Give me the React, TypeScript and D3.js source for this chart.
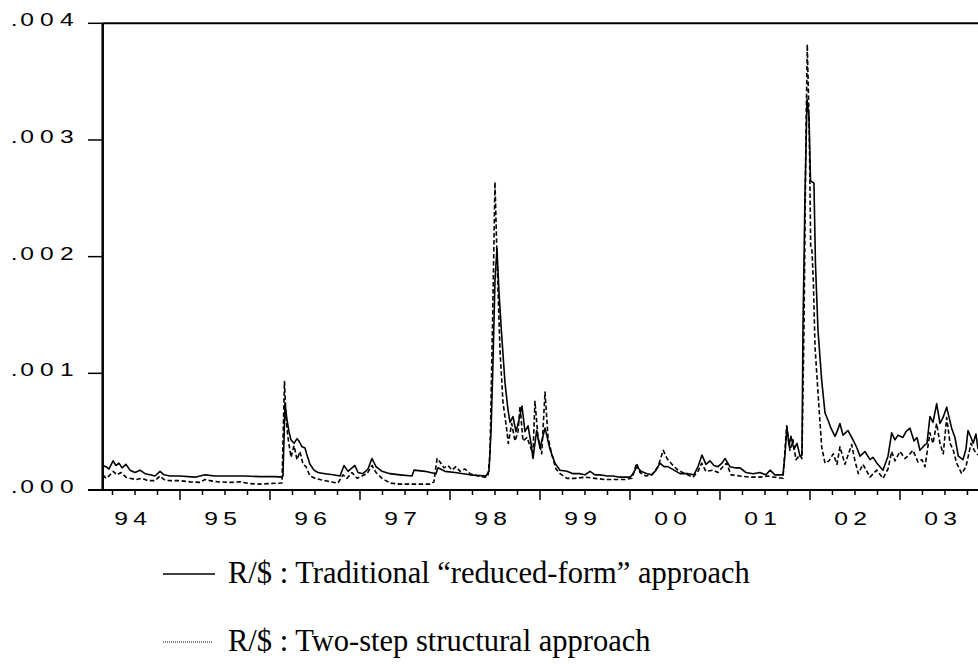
import React from 'react';
import * as d3 from 'd3';

// Values are in units of 0.001 (conditional variance), dates in decimal years
const tradDates = [
  1994.144, 1994.178, 1994.211, 1994.256, 1994.289, 1994.322, 1994.356, 1994.400, 1994.444, 1994.500,
  1994.556, 1994.611, 1994.667, 1994.722, 1994.778, 1994.822, 1994.889, 1995.000, 1995.167, 1995.278,
  1995.389, 1995.556, 1995.722, 1995.889, 1996.056, 1996.133, 1996.144, 1996.167, 1996.189, 1996.211,
  1996.233, 1996.267, 1996.300, 1996.322, 1996.356, 1996.389, 1996.411, 1996.444, 1996.489, 1996.533,
  1996.611, 1996.700, 1996.778, 1996.822, 1996.867, 1996.911, 1996.944, 1996.978, 1997.033, 1997.089,
  1997.133, 1997.178, 1997.244, 1997.333, 1997.444, 1997.578, 1997.600, 1997.722, 1997.844, 1997.867,
  1997.944, 1998.056, 1998.222, 1998.400, 1998.433, 1998.456, 1998.478, 1998.500, 1998.522, 1998.544,
  1998.574, 1998.611, 1998.644, 1998.667, 1998.700, 1998.733, 1998.767, 1998.800, 1998.833, 1998.867,
  1998.900, 1998.922, 1998.963, 1999.000, 1999.056, 1999.111, 1999.167, 1999.222, 1999.300, 1999.367,
  1999.444, 1999.500, 1999.556, 1999.611, 1999.667, 1999.744, 1999.811, 1999.889, 2000.000, 2000.033,
  2000.078, 2000.122, 2000.189, 2000.244, 2000.289, 2000.333, 2000.378, 2000.422, 2000.489, 2000.556,
  2000.644, 2000.711, 2000.756, 2000.800, 2000.844, 2000.889, 2000.933, 2000.978, 2001.022, 2001.056,
  2001.111, 2001.167, 2001.222, 2001.289, 2001.367, 2001.444, 2001.511, 2001.556, 2001.611, 2001.700,
  2001.722, 2001.744, 2001.767, 2001.789, 2001.822, 2001.856, 2001.889, 2001.911, 2001.922, 2001.944,
  2001.967, 2001.989, 2002.006, 2002.044, 2002.061, 2002.089, 2002.130, 2002.167, 2002.200, 2002.233,
  2002.278, 2002.311, 2002.333, 2002.367, 2002.422, 2002.478, 2002.522, 2002.556, 2002.611, 2002.667,
  2002.700, 2002.744, 2002.811, 2002.867, 2002.908, 2002.944, 2002.978, 2003.033, 2003.067, 2003.111,
  2003.156, 2003.189, 2003.222, 2003.267, 2003.300, 2003.333, 2003.367, 2003.408, 2003.444, 2003.478,
  2003.519, 2003.574, 2003.611, 2003.648, 2003.700, 2003.733, 2003.756, 2003.789, 2003.814, 2003.844,
  2003.867,
];
const tradVals = [
  0.21, 0.20, 0.18, 0.25, 0.21, 0.23, 0.19, 0.22, 0.17, 0.15,
  0.17, 0.14, 0.13, 0.12, 0.16, 0.13, 0.12, 0.12, 0.11, 0.13,
  0.12, 0.12, 0.12, 0.115, 0.115, 0.11, 0.12, 0.74, 0.60, 0.50,
  0.43, 0.40, 0.44, 0.42, 0.37, 0.36, 0.30, 0.22, 0.17, 0.15,
  0.14, 0.13, 0.12, 0.21, 0.16, 0.19, 0.21, 0.15, 0.14, 0.18,
  0.27, 0.20, 0.16, 0.14, 0.13, 0.12, 0.17, 0.16, 0.14, 0.19,
  0.16, 0.15, 0.13, 0.12, 0.16, 0.50, 1.10, 1.80, 2.07, 1.70,
  1.33, 0.92, 0.69, 0.58, 0.63, 0.50, 0.60, 0.72, 0.50, 0.55,
  0.40, 0.27, 0.51, 0.36, 0.53, 0.35, 0.23, 0.17, 0.16, 0.14,
  0.14, 0.13, 0.16, 0.13, 0.13, 0.12, 0.12, 0.11, 0.11, 0.14,
  0.20, 0.16, 0.14, 0.13, 0.17, 0.23, 0.20, 0.20, 0.17, 0.14,
  0.14, 0.13, 0.20, 0.30, 0.22, 0.25, 0.21, 0.20, 0.23, 0.27,
  0.20, 0.19, 0.19, 0.15, 0.14, 0.15, 0.13, 0.17, 0.13, 0.13,
  0.30, 0.54, 0.38, 0.46, 0.35, 0.40, 0.29, 0.30, 1.37, 2.50,
  3.35, 3.20, 2.65, 2.63, 1.94, 1.37, 0.94, 0.66, 0.60, 0.53,
  0.46, 0.52, 0.57, 0.47, 0.51, 0.43, 0.36, 0.29, 0.33, 0.26,
  0.28, 0.23, 0.17, 0.29, 0.49, 0.43, 0.47, 0.45, 0.50, 0.53,
  0.42, 0.45, 0.34, 0.38, 0.40, 0.63, 0.58, 0.74, 0.57, 0.62,
  0.71, 0.53, 0.45, 0.29, 0.26, 0.35, 0.51, 0.45, 0.40, 0.48,
  0.35,
];

const structDates = [
  1994.144, 1994.178, 1994.211, 1994.256, 1994.300, 1994.344, 1994.400, 1994.444, 1994.511, 1994.578,
  1994.644, 1994.722, 1994.778, 1994.822, 1994.889, 1995.000, 1995.111, 1995.222, 1995.278, 1995.333,
  1995.422, 1995.556, 1995.667, 1995.778, 1995.889, 1996.000, 1996.133, 1996.161, 1996.178, 1996.200,
  1996.233, 1996.267, 1996.300, 1996.333, 1996.367, 1996.400, 1996.444, 1996.500, 1996.556, 1996.667,
  1996.756, 1996.811, 1996.856, 1996.911, 1996.967, 1997.022, 1997.078, 1997.133, 1997.178, 1997.244,
  1997.333, 1997.444, 1997.611, 1997.778, 1997.822, 1997.856, 1997.889, 1997.933, 1997.978, 1998.022,
  1998.067, 1998.111, 1998.167, 1998.222, 1998.311, 1998.389, 1998.422, 1998.444, 1998.472, 1998.500,
  1998.522, 1998.556, 1998.589, 1998.630, 1998.648, 1998.686, 1998.722, 1998.756, 1998.778, 1998.811,
  1998.856, 1998.889, 1998.922, 1998.944, 1998.978, 1999.019, 1999.056, 1999.089, 1999.133, 1999.178,
  1999.222, 1999.300, 1999.389, 1999.500, 1999.611, 1999.722, 1999.833, 1999.944, 2000.022, 2000.074,
  2000.111, 2000.178, 2000.244, 2000.311, 2000.370, 2000.411, 2000.467, 2000.533, 2000.611, 2000.700,
  2000.756, 2000.797, 2000.844, 2000.922, 2000.978, 2001.022, 2001.074, 2001.122, 2001.222, 2001.333,
  2001.444, 2001.533, 2001.611, 2001.700, 2001.741, 2001.778, 2001.811, 2001.844, 2001.889, 2001.911,
  2001.933, 2001.956, 2001.970, 2001.992, 2002.008, 2002.022, 2002.037, 2002.056, 2002.092, 2002.130,
  2002.167, 2002.211, 2002.259, 2002.300, 2002.333, 2002.389, 2002.463, 2002.500, 2002.537, 2002.589,
  2002.667, 2002.741, 2002.811, 2002.867, 2002.908, 2002.944, 2003.000, 2003.056, 2003.100, 2003.144,
  2003.200, 2003.244, 2003.278, 2003.333, 2003.367, 2003.408, 2003.444, 2003.481, 2003.519, 2003.556,
  2003.589, 2003.630, 2003.686, 2003.733, 2003.756, 2003.789, 2003.833, 2003.867,
];
const structVals = [
  0.13, 0.10, 0.12, 0.16, 0.13, 0.15, 0.11, 0.10, 0.09, 0.10,
  0.08, 0.08, 0.12, 0.09, 0.08, 0.08, 0.07, 0.065, 0.09, 0.08,
  0.07, 0.065, 0.07, 0.055, 0.05, 0.055, 0.06, 0.93, 0.62, 0.45,
  0.28, 0.38, 0.26, 0.33, 0.22, 0.20, 0.12, 0.10, 0.09, 0.07,
  0.06, 0.13, 0.10, 0.15, 0.10, 0.12, 0.14, 0.21, 0.15, 0.10,
  0.06, 0.05, 0.05, 0.05, 0.07, 0.27, 0.24, 0.19, 0.21, 0.17,
  0.20, 0.16, 0.18, 0.14, 0.12, 0.11, 0.12, 0.30, 1.40, 2.64,
  2.00, 1.19, 0.75, 0.52, 0.40, 0.57, 0.42, 0.50, 0.72, 0.42,
  0.45, 0.38, 0.31, 0.76, 0.45, 0.31, 0.84, 0.45, 0.30, 0.18,
  0.14, 0.10, 0.10, 0.11, 0.10, 0.09, 0.09, 0.09, 0.10, 0.23,
  0.15, 0.12, 0.13, 0.20, 0.34, 0.27, 0.22, 0.17, 0.14, 0.11,
  0.16, 0.23, 0.16, 0.17, 0.15, 0.19, 0.23, 0.13, 0.12, 0.11,
  0.11, 0.12, 0.11, 0.10, 0.55, 0.34, 0.43, 0.26, 0.30, 0.27,
  1.37, 3.08, 3.82, 3.08, 2.09, 2.05, 1.80, 1.23, 0.80, 0.37,
  0.23, 0.25, 0.31, 0.22, 0.37, 0.22, 0.39, 0.25, 0.14, 0.22,
  0.11, 0.17, 0.10, 0.18, 0.33, 0.25, 0.33, 0.27, 0.30, 0.34,
  0.24, 0.26, 0.20, 0.49, 0.40, 0.57, 0.40, 0.31, 0.62, 0.40,
  0.35, 0.23, 0.14, 0.20, 0.28, 0.40, 0.33, 0.30,
];

const yTicks = [0, 1, 2, 3, 4];
const yTickLabels = ['.000', '.001', '.002', '.003', '.004'];
const years = [1994, 1995, 1996, 1997, 1998, 1999, 2000, 2001, 2002, 2003];
const yearLabels = ['94', '95', '96', '97', '98', '99', '00', '01', '02', '03'];
const legendLabels = [
  'R/$ : Traditional \u201creduced-form\u201d approach',
  'R/$ : Two-step structural approach',
];

export default function App() {
  const W = 978;
  const H = 666;
  const left = 102.7;
  const right = 978;
  const top = 23.3;
  const bottom = 490;

  const x = d3.scaleLinear().domain([1994.141, 2003.867]).range([left, right]);
  const y = d3.scaleLinear().domain([0, 4]).range([bottom, top]);
  const line = d3
    .line<[number, number]>()
    .x((d) => x(d[0]))
    .y((d) => y(d[1]));

  const trad: [number, number][] = tradDates.map((t, i) => [t, tradVals[i]]);
  const struct: [number, number][] = structDates.map((t, i) => [t, structVals[i]]);

  const quarterTicks = d3
    .range(1, 40)
    .map((i) => 1994 + i * 0.25)
    .filter((t) => t < 2003.867);

  const sx = 1.33;
  const ls = 4;
  const numFont = "'Liberation Sans', Arial, sans-serif";
  const serif = "'Liberation Serif', 'Times New Roman', serif";

  return (
    <svg
      width={W}
      height={H}
      viewBox={`0 0 ${W} ${H}`}
      style={{ position: 'absolute', left: 0, top: 0, background: '#fff' }}
    >
      <rect x={0} y={0} width={W} height={H} fill="#fff" />
      {/* series */}
      <path
        d={line(struct) || ''}
        fill="none"
        stroke="#000"
        strokeWidth={1.6}
        strokeDasharray="4.5,2.5"
        strokeLinejoin="round"
      />
      <path d={line(trad) || ''} fill="none" stroke="#000" strokeWidth={1.6} strokeLinejoin="round" />

      {/* frame */}
      <line x1={left} x2={right} y1={top} y2={top} stroke="#000" strokeWidth={2} />
      <line x1={left} x2={left} y1={top} y2={bottom} stroke="#000" strokeWidth={2.5} />
      <line x1={88} x2={right} y1={bottom} y2={bottom} stroke="#000" strokeWidth={2} />

      {/* y ticks */}
      {yTicks.map((v, i) => (
        <g key={'y' + v}>
          <line x1={88} x2={left} y1={y(v)} y2={y(v)} stroke="#000" strokeWidth={1.5} />
          <text
            transform={`translate(10.8, ${y(v) + 3}) scale(${sx}, 1)`}
            fontFamily={numFont}
            fontSize={18.5}
            fill="#000"
          >
            <tspan letterSpacing={2}>{yTickLabels[i].slice(0, 1)}</tspan>
            <tspan letterSpacing={4.6}>{yTickLabels[i].slice(1)}</tspan>
          </text>
        </g>
      ))}

      {/* x ticks */}
      {quarterTicks.map((t) => {
        const major = Math.abs(t - Math.round(t)) < 1e-6;
        return (
          <line
            key={'q' + t}
            x1={x(t)}
            x2={x(t)}
            y1={bottom}
            y2={bottom + (major ? 10 : 5)}
            stroke="#000"
            strokeWidth={1.5}
          />
        );
      })}
      {years.map((yr, i) => (
        <text
          key={'yl' + yr}
          transform={`translate(${x(yr) + 40.5 + (ls * sx) / 2}, 524.5) scale(${sx}, 1)`}
          textAnchor="middle"
          fontFamily={numFont}
          fontSize={18.5}
          letterSpacing={ls}
          fill="#000"
        >
          {yearLabels[i]}
        </text>
      ))}

      {/* legend */}
      <line x1={163} x2={215} y1={574} y2={574} stroke="#000" strokeWidth={1.6} />
      <text x={228} y={583} fontFamily={serif} fontSize={30.5} fill="#000">
        {legendLabels[0]}
      </text>
      <line x1={163} x2={213} y1={642} y2={642} stroke="#000" strokeWidth={1} strokeDasharray="1,1" />
      <text x={228} y={651} fontFamily={serif} fontSize={30.5} fill="#000">
        {legendLabels[1]}
      </text>
    </svg>
  );
}
